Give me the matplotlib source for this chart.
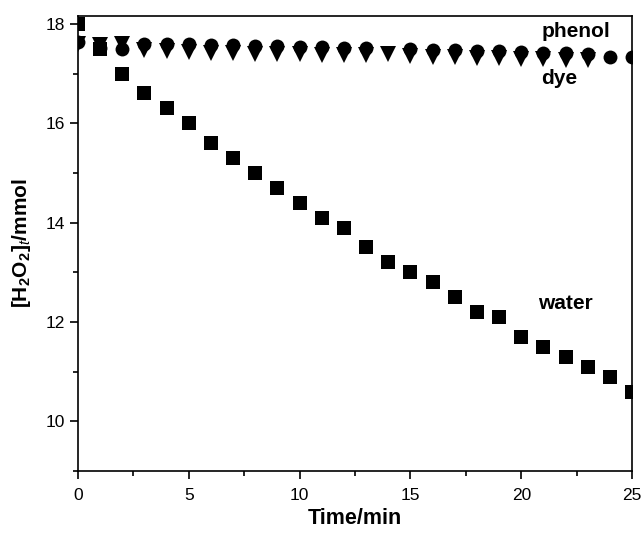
import numpy as np
import matplotlib
matplotlib.use("Agg")
import matplotlib.pyplot as plt
from matplotlib.ticker import MultipleLocator

plt.rcParams['font.family'] = ['Liberation Sans', 'DejaVu Sans']
plt.rcParams['mathtext.fontset'] = 'custom'
plt.rcParams['mathtext.rm'] = 'Liberation Sans'
plt.rcParams['mathtext.bf'] = 'Liberation Sans:bold'
plt.rcParams['mathtext.it'] = 'Liberation Sans:italic'

# water (squares)
t_water = np.arange(0, 26)
h2o2_water = [18.0, 17.5, 17.0, 16.6, 16.3, 16.0, 15.6, 15.3, 15.0, 14.7,
              14.4, 14.1, 13.9, 13.5, 13.2, 13.0, 12.8, 12.5, 12.2, 12.1,
              11.7, 11.5, 11.3, 11.1, 10.9, 10.6]

# phenol (circles), no point read at t=14
t_phenol = [0, 1, 2, 3, 4, 5, 6, 7, 8, 9, 10, 11, 12, 13,
            15, 16, 17, 18, 19, 20, 21, 22, 23, 24, 25]
h2o2_phenol = [17.64, 17.52, 17.50, 17.60, 17.60, 17.60, 17.58, 17.57, 17.56,
               17.55, 17.54, 17.53, 17.52, 17.51, 17.49, 17.48, 17.47, 17.46,
               17.45, 17.44, 17.42, 17.41, 17.40, 17.33, 17.33]

# dye (down triangles)
t_dye = np.arange(0, 24)
h2o2_dye = [17.60, 17.58, 17.60, 17.47, 17.45, 17.43, 17.42, 17.41, 17.40,
            17.39, 17.39, 17.38, 17.37, 17.37, 17.39, 17.35, 17.34, 17.33,
            17.32, 17.31, 17.30, 17.29, 17.28, 17.27]

fig = plt.figure(figsize=(6.43, 5.33), dpi=100)
ax = fig.add_axes([0.1213, 0.1163, 0.8617, 0.8537])

ax.plot(t_dye, h2o2_dye, 'v', color='black', ms=11, mew=0, ls='none')
ax.plot(t_phenol, h2o2_phenol, 'o', color='black', ms=10, mew=0, ls='none')
ax.plot(t_water, h2o2_water, 's', color='black', ms=9.5, mew=0, ls='none')

ax.set_xlim(0, 25)
ax.set_ylim(9, 18.16)

ax.text(20.9, 17.84, 'phenol', fontsize=15, fontweight='bold', ha='left', va='center')
ax.text(20.9, 16.91, 'dye', fontsize=15, fontweight='bold', ha='left', va='center')
ax.text(20.77, 12.37, 'water', fontsize=15, fontweight='bold', ha='left', va='center')

ax.xaxis.set_major_locator(MultipleLocator(5))
ax.xaxis.set_minor_locator(MultipleLocator(2.5))
ax.yaxis.set_major_locator(MultipleLocator(2))
ax.yaxis.set_minor_locator(MultipleLocator(1))

ax.tick_params(which='both', direction='out', top=False, right=False,
               width=1.2, labelsize=12.5)
ax.tick_params(which='major', length=6)
ax.tick_params(axis='x', which='major', pad=6)
ax.tick_params(axis='y', which='major', pad=3.5)
ax.tick_params(which='minor', length=3.5)
for s in ax.spines.values():
    s.set_linewidth(1.2)

ax.set_xlabel('Time/min', fontsize=15.5, fontweight='bold', labelpad=4)
ax.set_ylabel(r'$\mathbf{[H_2O_2]_{\mathit{t}}/mmol}$', fontsize=15, labelpad=9)

fig.savefig('out.png', dpi=100)
